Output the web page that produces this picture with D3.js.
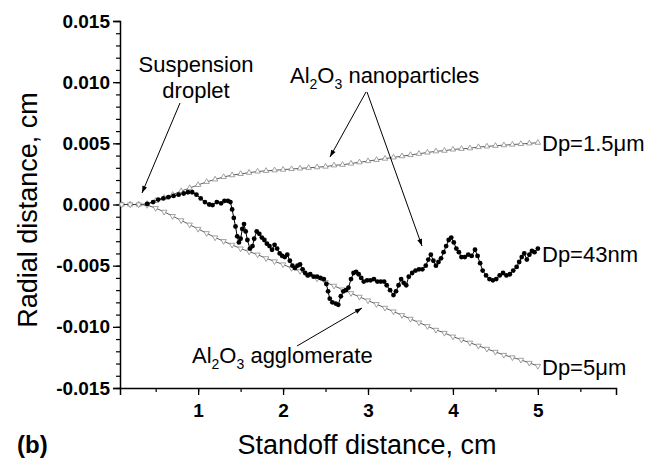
<!DOCTYPE html>
<html>
<head>
<meta charset="utf-8">
<script src="https://cdn.jsdelivr.net/npm/d3@7"></script>
<style>
  html, body { margin: 0; padding: 0; background: #fff; }
  svg { display: block; font-family: "Liberation Sans", Arial, sans-serif; }
</style>
</head>
<body>
<svg id="chart" width="658" height="463"></svg>
<script>
// Standoff distance (cm) and radial distance (in units of 0.001 cm)
const xTicks = [1, 2, 3, 4, 5];
const yTicks = [-0.015, -0.010, -0.005, 0.000, 0.005, 0.010, 0.015];

// Dp = 1.5 um particles
const xSmall = [0.1,0.2,0.3,0.4,0.5,0.6,0.7,0.8,0.9,1.0,1.1,1.2,1.3,1.4,1.5,1.6,1.7,1.8,1.9,2.0,
  2.1,2.2,2.3,2.4,2.5,2.6,2.7,2.8,2.9,3.0,3.1,3.2,3.3,3.4,3.5,3.6,3.7,3.8,3.9,4.0,
  4.1,4.2,4.3,4.4,4.5,4.6,4.7,4.8,4.9,5.0];
const ySmall = [0,0,0,0.05,0.3,0.55,0.8,1.1,1.35,1.6,1.85,2.05,2.25,2.4,2.5,2.6,2.7,2.75,2.8,2.85,
  2.9,2.95,3.0,3.05,3.1,3.2,3.25,3.35,3.45,3.55,3.65,3.75,3.85,3.95,4.05,4.15,4.25,4.35,4.4,4.5,
  4.55,4.6,4.7,4.75,4.8,4.85,4.9,4.95,5.0,5.05];

// Dp = 5 um particles
const xLarge = xSmall;
const yLarge = [0,0,0,-0.05,-0.3,-0.6,-0.95,-1.3,-1.65,-2.0,-2.35,-2.7,-3.0,-3.3,-3.6,-3.85,-4.1,-4.4,-4.65,-4.9,
  -5.2,-5.45,-5.75,-6.05,-6.35,-6.65,-6.95,-7.25,-7.55,-7.85,-8.15,-8.45,-8.75,-9.05,-9.35,-9.65,-9.95,-10.25,-10.5,-10.8,
  -11.05,-11.3,-11.55,-11.8,-12.05,-12.3,-12.5,-12.7,-12.95,-13.2];

// Dp = 43 nm particles
const xNano = [0.40,0.47,0.53,0.59,0.65,0.71,0.77,0.83,0.88,0.93,0.98,1.03,1.08,1.13,1.17,1.22,1.27,1.31,1.35,1.38,
  1.40,1.42,1.44,1.46,1.48,1.50,1.52,1.54,1.56,1.58,1.61,1.64,1.66,1.69,1.72,1.75,1.78,1.81,1.84,1.87,
  1.90,1.93,1.96,1.99,2.02,2.05,2.08,2.11,2.14,2.17,2.20,2.23,2.26,2.29,2.32,2.36,2.40,2.44,2.48,2.51,
  2.53,2.55,2.58,2.62,2.65,2.68,2.71,2.74,2.77,2.80,2.83,2.86,2.89,2.92,2.95,2.99,3.03,3.07,3.11,3.15,
  3.19,3.22,3.26,3.30,3.33,3.36,3.39,3.42,3.45,3.48,3.52,3.56,3.60,3.64,3.68,3.71,3.74,3.77,3.80,3.83,
  3.86,3.89,3.92,3.95,3.98,4.01,4.04,4.07,4.10,4.14,4.18,4.22,4.26,4.29,4.32,4.35,4.39,4.43,4.47,4.51,
  4.55,4.59,4.63,4.67,4.71,4.75,4.78,4.81,4.84,4.87,4.90,4.93,4.96,5.00];
const yNano = [0.05,0.2,0.4,0.5,0.6,0.7,0.8,0.9,1.0,1.0,0.8,0.5,0.2,0.0,-0.05,0.2,0.1,0.3,0.3,0.2,
  -0.4,-1.1,-1.8,-2.6,-3.1,-2.8,-2.0,-1.6,-2.2,-2.9,-3.6,-3.4,-2.8,-2.2,-2.4,-2.7,-2.9,-3.2,-3.4,-3.7,
  -3.3,-3.6,-4.0,-4.2,-4.3,-4.1,-4.6,-5.0,-5.2,-5.0,-4.9,-5.3,-5.6,-5.8,-5.7,-5.9,-5.9,-6.0,-6.1,-6.5,
  -7.1,-7.7,-8.0,-8.1,-8.2,-7.5,-7.1,-7.0,-6.8,-6.1,-5.6,-5.5,-5.7,-6.0,-6.3,-6.2,-6.2,-6.1,-6.3,-6.3,
  -6.3,-6.6,-7.0,-7.4,-7.1,-6.6,-6.1,-6.4,-6.6,-5.9,-5.6,-5.4,-5.3,-5.3,-5.0,-4.5,-4.1,-4.6,-5.0,-4.7,
  -4.4,-3.9,-3.4,-2.9,-2.7,-3.1,-3.6,-3.9,-4.3,-4.3,-4.1,-4.2,-3.7,-4.2,-4.8,-5.4,-5.8,-6.1,-6.2,-6.1,
  -5.8,-5.6,-5.8,-5.7,-5.4,-5.1,-4.7,-4.3,-4.0,-4.5,-4.1,-3.8,-3.9,-3.6];

const toPts = (xs, ys) => xs.map((x, i) => ({ x: x, y: ys[i] / 1000 }));
const smallPts = toPts(xSmall, ySmall);
const largePts = toPts(xLarge, yLarge);
const nanoPts  = toPts(xNano, yNano);

const svg = d3.select("#chart");

const x = d3.scaleLinear().domain([0.08, 5.92]).range([120, 616]);
const y = d3.scaleLinear().domain([-0.015, 0.015]).range([388, 21]);

// arrowhead marker for annotations
svg.append("defs").append("marker")
  .attr("id", "arrow")
  .attr("viewBox", "0 0 10 10")
  .attr("refX", 10).attr("refY", 5)
  .attr("markerWidth", 9).attr("markerHeight", 7)
  .attr("markerUnits", "userSpaceOnUse")
  .attr("orient", "auto")
  .append("path").attr("d", "M0,1.5 L10,5 L0,8.5 Z").attr("fill", "#000");

// axes
const fmtY = d => (Math.abs(d) < 1e-12 ? 0 : d).toFixed(3);
const tickFont = 19;

const yMinor = d3.range(-15, 16).map(v => v / 1000);
svg.append("g")
  .attr("transform", "translate(120,0)")
  .call(d3.axisLeft(y).tickValues(yMinor).tickSize(4).tickFormat(""))
  .call(g => g.select(".domain").remove())
  .call(g => g.selectAll("line").attr("stroke-width", 1.2));

const yAxis = svg.append("g")
  .attr("transform", "translate(120,0)")
  .call(d3.axisLeft(y).tickValues(yTicks).tickSize(7).tickPadding(3).tickFormat(fmtY));
yAxis.select(".domain").attr("stroke-width", 1.5);
yAxis.selectAll("line").attr("stroke-width", 1.3);
yAxis.selectAll("text")
  .attr("font-size", tickFont).attr("font-weight", "bold")
  .attr("font-family", "'Liberation Sans', Arial, sans-serif");

const xMinor = d3.range(1, 12).map(v => v * 0.5);
svg.append("g")
  .attr("transform", "translate(0,388)")
  .call(d3.axisBottom(x).tickValues(xMinor).tickSize(4).tickFormat(""))
  .call(g => g.select(".domain").remove())
  .call(g => g.selectAll("line").attr("stroke-width", 1.2));

const xAxis = svg.append("g")
  .attr("transform", "translate(0,388)")
  .call(d3.axisBottom(x).tickValues(xTicks).tickSize(7).tickPadding(9).tickFormat(d3.format("d")));
xAxis.select(".domain").attr("stroke-width", 1.5);
xAxis.selectAll("line").attr("stroke-width", 1.3);
xAxis.selectAll("text")
  .attr("font-size", tickFont).attr("font-weight", "bold")
  .attr("font-family", "'Liberation Sans', Arial, sans-serif");

// axis titles
svg.append("text")
  .attr("transform", "translate(37,210) rotate(-90)")
  .attr("text-anchor", "middle")
  .attr("font-size", 27)
  .text("Radial distance, cm");

svg.append("text")
  .attr("x", 367).attr("y", 454)
  .attr("text-anchor", "middle")
  .attr("font-size", 27)
  .text("Standoff distance, cm");

svg.append("text")
  .attr("x", 17).attr("y", 453)
  .attr("font-size", 24).attr("font-weight", "bold")
  .text("(b)");

// series
const line = d3.line().x(d => x(d.x)).y(d => y(d.y));
const tri = d3.symbol().type(d3.symbolTriangle).size(13);

function triangleSeries(pts, rotate) {
  const g = svg.append("g");
  g.append("path").datum(pts)
    .attr("d", line)
    .attr("fill", "none")
    .attr("stroke", "#333")
    .attr("stroke-width", 0.8);
  g.selectAll("path.m").data(pts).join("path")
    .attr("class", "m")
    .attr("d", tri)
    .attr("transform", d => `translate(${x(d.x)},${y(d.y)}) rotate(${rotate})`)
    .attr("fill", "#fff")
    .attr("stroke", "#8c8c8c")
    .attr("stroke-width", 0.8);
}
triangleSeries(smallPts, 0);
triangleSeries(largePts, 180);

const gNano = svg.append("g");
gNano.append("path").datum(nanoPts)
  .attr("d", line)
  .attr("fill", "none")
  .attr("stroke", "#000")
  .attr("stroke-width", 1);
gNano.selectAll("circle").data(nanoPts).join("circle")
  .attr("cx", d => x(d.x)).attr("cy", d => y(d.y))
  .attr("r", 2.4)
  .attr("fill", "#000");

// series labels
const fs = 22;
const lbl = (px, py, str) => svg.append("text").attr("x", px).attr("y", py).attr("font-size", fs).text(str);
lbl(542, 151, "Dp=1.5\u03bcm");
lbl(542, 262, "Dp=43nm");
lbl(542, 375, "Dp=5\u03bcm");

// annotations
svg.append("text").attr("x", 196).attr("y", 72).attr("text-anchor", "middle").attr("font-size", fs).text("Suspension");
svg.append("text").attr("x", 196).attr("y", 98).attr("text-anchor", "middle").attr("font-size", fs).text("droplet");

function formula(px, py, rest) {
  const t = svg.append("text").attr("x", px).attr("y", py).attr("font-size", fs);
  t.append("tspan").text("Al");
  t.append("tspan").attr("font-size", 14).attr("dy", 6).text("2");
  t.append("tspan").attr("dy", -6).text("O");
  t.append("tspan").attr("font-size", 14).attr("dy", 6).text("3");
  t.append("tspan").attr("dy", -6).text(rest);
}
formula(290, 83, " nanoparticles");
formula(192, 363, " agglomerate");

const arrow = (x1, y1, x2, y2) => svg.append("line")
  .attr("x1", x1).attr("y1", y1).attr("x2", x2).attr("y2", y2)
  .attr("stroke", "#000").attr("stroke-width", 1)
  .attr("marker-end", "url(#arrow)");
arrow(180, 103, 142, 193);
arrow(366, 92, 330, 157);
arrow(367, 92, 422, 246);
arrow(297, 346, 362, 308);
</script>
</body>
</html>
